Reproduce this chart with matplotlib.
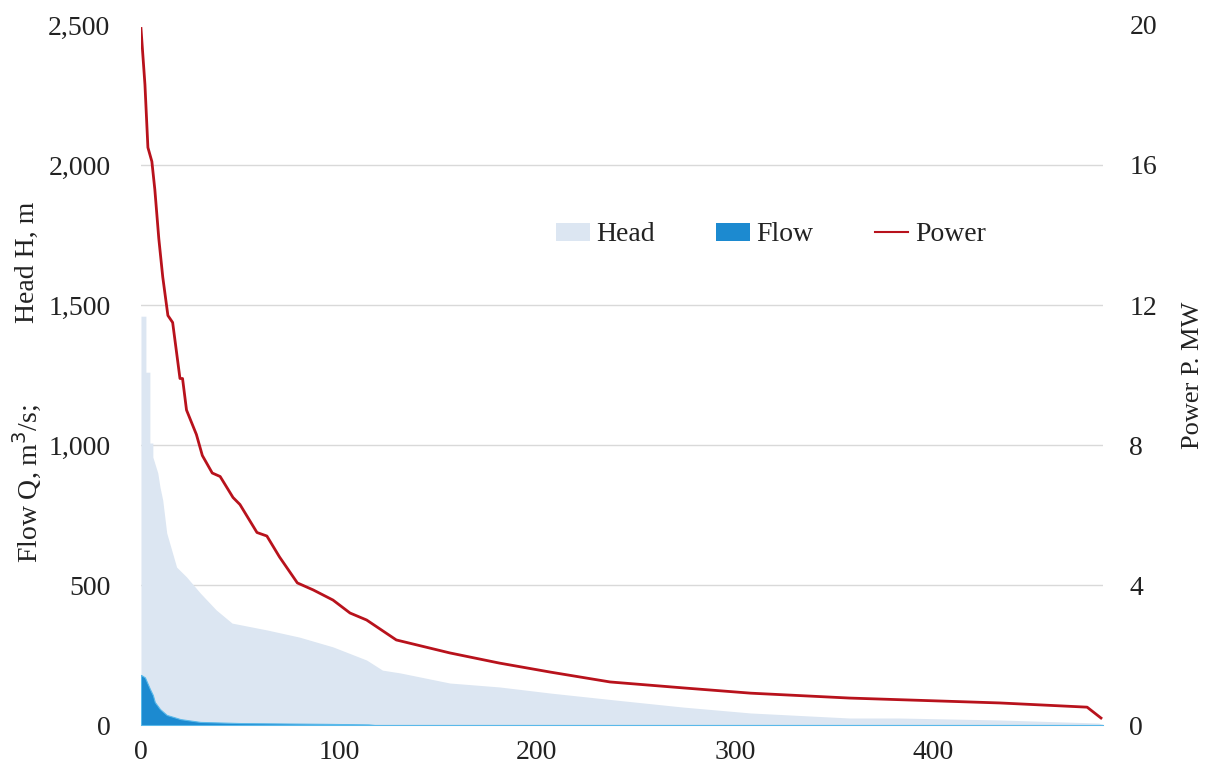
import matplotlib
matplotlib.use("Agg")
import matplotlib.pyplot as plt
from matplotlib.patches import Patch
from matplotlib.lines import Line2D

# ---- data ----
head_x = [0, 2.5, 2.5, 4.5, 4.5, 6, 6, 8.5, 9.6, 11, 13, 18, 23, 30, 38, 46, 64, 80, 97,
          114, 122, 131, 156, 181, 207, 240, 274, 308, 358, 383, 434, 484, 486]
head_v = [1460, 1460, 1260, 1260, 1007, 1007, 957, 900, 850, 803, 686, 564, 529, 471, 411, 364,
          339, 314, 279, 232, 196, 186, 150, 136, 114, 89, 64, 43, 25, 25, 18, 7, 0]

flow_x = [0, 2, 4.5, 6, 7, 9.6, 13, 20, 30, 50, 95, 115, 118, 486]
flow_v = [179, 170, 129, 107, 82, 57, 36, 21, 11, 7, 4, 2, 0, 0]

power_x = [0, 2, 3.5, 5.5, 7, 9, 11, 13.6, 16, 19.7, 21, 23, 28, 31, 36, 40, 46.5, 50, 58.6,
           63.6, 70, 79, 87, 97, 105.6, 114, 129, 156, 181, 207, 237, 274, 308, 358, 434, 478, 485]
power_v = [19.9, 18.3, 16.5, 16.1, 15.3, 13.9, 12.8, 11.7, 11.5, 9.9, 9.9, 9.0, 8.3, 7.7, 7.2,
           7.1, 6.5, 6.3, 5.5, 5.4, 4.8, 4.06, 3.86, 3.57, 3.2, 3.0, 2.43, 2.06, 1.77, 1.51, 1.23,
           1.06, 0.91, 0.77, 0.63, 0.51, 0.2]

x_ticks = [0, 100, 200, 300, 400]
left_ticks = [0, 500, 1000, 1500, 2000, 2500]
right_ticks = [0, 4, 8, 12, 16, 20]

plt.rcParams['font.family'] = ['Liberation Serif', 'DejaVu Serif']
FS = 20
TXT = '#222222'

fig = plt.figure(figsize=(12.07, 7.69), dpi=100)
ax = fig.add_axes([0.1168, 0.0572, 0.797, 0.9103])

head_c = '#dce6f2'
flow_c = '#1c8ad0'
power_c = '#b8121c'

ax.fill_between(head_x, head_v, 0, color=head_c, lw=0, zorder=2)
ax.fill_between(flow_x, flow_v, 0, facecolor=flow_c, edgecolor='#5ab9ea', lw=0.8, zorder=3)

ax.set_xlim(0, 486)
ax.set_ylim(0, 2500)
ax.set_xticks(x_ticks)
ax.set_yticks(left_ticks)
ax.set_yticklabels([f"{v:,}" for v in left_ticks])
ax.grid(axis='y', color='#d9d9d9', lw=1.0, zorder=0)
ax.set_axisbelow(True)
ax.get_ygridlines()[-1].set_visible(False)
ax.tick_params(length=0, labelsize=FS, colors=TXT)
ax.tick_params(axis='x', pad=11)
ax.tick_params(axis='y', pad=22)
for s in ['top', 'right', 'left']:
    ax.spines[s].set_visible(False)
ax.spines['bottom'].set_color('#d9d9d9')

ax2 = ax.twinx()
ax2.plot(power_x, power_v, color=power_c, lw=2.0, zorder=5)
ax2.set_ylim(0, 20)
ax2.set_yticks(right_ticks)
ax2.tick_params(length=0, labelsize=FS, colors=TXT, pad=19)
for s in ax2.spines.values():
    s.set_visible(False)

fig.text(1193 / 1207, 1 - 375 / 769, 'Power P. MW', rotation=90, fontsize=19, color=TXT,
         ha='center', va='center')
fig.text(27 / 1207, 1 - 262 / 769, 'Head H, m', rotation=90, fontsize=FS, color=TXT,
         ha='center', va='center')
fig.text(27 / 1207, 1 - 483 / 769, 'Flow Q, m$^3$/s;', rotation=90, fontsize=FS, color=TXT,
         ha='center', va='center')

handles = [Patch(facecolor=head_c, edgecolor='none'),
           Patch(facecolor=flow_c, edgecolor='none'),
           Line2D([], [], color=power_c, lw=1.5)]
ax.legend(handles, ['Head', 'Flow', 'Power'], loc='center', bbox_to_anchor=(0.655, 0.70),
          ncol=3, frameon=False, fontsize=FS, handlelength=1.2, handleheight=0.6,
          handletextpad=0.25, columnspacing=2.2, labelcolor=TXT)

fig.savefig('out.png', dpi=100)
